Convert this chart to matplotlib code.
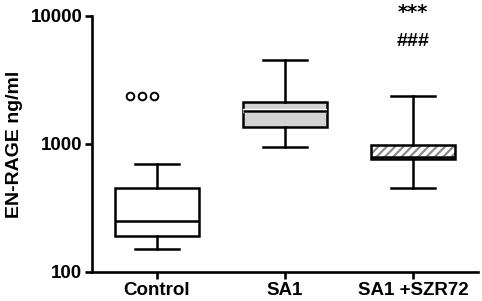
import numpy as np
import matplotlib
matplotlib.use("Agg")
import matplotlib.pyplot as plt
import matplotlib.patheffects as pe
from matplotlib.patches import PathPatch
from matplotlib.ticker import FixedLocator, FixedFormatter, NullLocator

plt.rcParams['font.family'] = ['Liberation Sans', 'DejaVu Sans']
plt.rcParams['hatch.linewidth'] = 1.6

# --- data ---
groups = ['Control', 'SA1', 'SA1 +SZR72']
whisker_low = [150, 947, 452]
q1 = [190, 1359, 770]
median = [249, 1815, 785]
q3 = [452, 2134, 990]
whisker_high = [697, 4560, 2380]
control_outliers = [2376, 2376, 2376]
outlier_offsets = [-0.21, -0.117, -0.023]
marks = ['***', '###']
mark_values = [10600, 6300]

fig = plt.figure(figsize=(4.82, 3.01), dpi=100)
ax = fig.add_axes([92 / 482, 1 - 272 / 301, (478 - 92) / 482, (272 - 16) / 301])

stats = []
for i, g in enumerate(groups):
    stats.append(dict(label=g, whislo=whisker_low[i], q1=q1[i], med=median[i],
                      q3=q3[i], whishi=whisker_high[i], fliers=[]))

lw = 1.8
bp = ax.bxp(stats, positions=[0, 1, 2], widths=0.66, patch_artist=True,
            showfliers=False, capwidths=0.34,
            boxprops=dict(linewidth=lw, edgecolor='black'),
            medianprops=dict(color='black', linewidth=lw),
            whiskerprops=dict(color='black', linewidth=lw),
            capprops=dict(color='black', linewidth=lw))

bp['boxes'][0].set_facecolor('white')
bp['boxes'][1].set_facecolor('#d3d3d3')
# thin white inner rim seen inside the grey box
halo = [pe.Stroke(linewidth=lw + 1.3, foreground='white'), pe.Normal()]
bp['boxes'][1].set_path_effects(halo)
bp['medians'][1].set_path_effects(halo)
# grey hatch layer underneath the third box outline
b = bp['boxes'][2]
hp = PathPatch(b.get_path(), facecolor='white', edgecolor='#8c8c8c', hatch='////',
               linewidth=0, zorder=b.get_zorder() - 0.1)
ax.add_patch(hp)
b.set_facecolor('none')

# outliers of the control group
ax.plot(np.array(outlier_offsets), control_outliers, 'o', ms=5.5, mfc='none',
        mec='black', mew=1.4, clip_on=False)

# significance marks above the third group
ax.text(2, mark_values[0], marks[0], ha='center', va='center', fontsize=14,
        fontweight='bold', family=['DejaVu Sans'], clip_on=False)
ax.text(2, mark_values[1], marks[1], ha='center', va='center', fontsize=14,
        fontweight='bold', clip_on=False)

ax.set_yscale('log')
ax.set_ylim(100, 10000)
ax.set_xlim(-0.508, 2.508)
ax.yaxis.set_major_locator(FixedLocator([100, 1000, 10000]))
ax.yaxis.set_major_formatter(FixedFormatter(['100', '1000', '10000']))
ax.yaxis.set_minor_locator(NullLocator())
ax.set_xticks([0, 1, 2])
ax.set_xticklabels(groups)

for side in ['top', 'right']:
    ax.spines[side].set_visible(False)
for side in ['left', 'bottom']:
    ax.spines[side].set_linewidth(1.9)

ax.tick_params(axis='both', width=1.9, length=5, labelsize=13.5, pad=2)
for lab in ax.get_xticklabels() + ax.get_yticklabels():
    lab.set_fontweight('bold')

ax.set_ylabel('EN-RAGE ng/ml', fontsize=14, fontweight='bold', labelpad=5)

fig.savefig('out.png', dpi=100)
